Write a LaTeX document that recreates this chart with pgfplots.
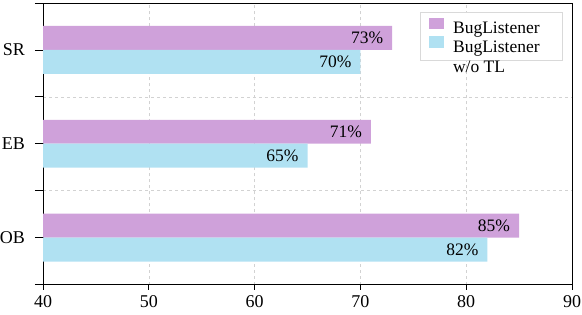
\documentclass[border=0pt]{standalone}
\usepackage{pgfplots}
\pgfplotsset{compat=1.18}
\usepackage{fontspec}
\setmainfont{Liberation Serif}
\definecolor{cpurple}{HTML}{CFA1DA}
\definecolor{cblue}{HTML}{B0E1F2}
\begin{document}
\fontsize{17.5}{20}\selectfont
\begin{tikzpicture}
\begin{axis}[
  scale only axis,
  width=529pt, height=281.5pt,
  xmin=40, xmax=90,
  ymin=-0.5, ymax=2.5,
  xtick={40,50,60,70,80,90},
  xtick pos=bottom, ytick pos=left,
  ytick={-0.5,0.5,1.5,2.5},
  yticklabels={},
  extra y ticks={0,1,2},
  extra y tick labels={OB,EB,SR},
  extra y tick style={major tick length=0pt, grid=none, yticklabel style={xshift=-18pt}},
  tick align=outside,
  major tick length=5pt,
  ytick style={/pgfplots/major tick length=8pt},
  major tick style={black, line width=0.8pt},
  axis line style={line width=0.8pt},
  xmajorgrids, ymajorgrids,
  major grid style={dashed, gray!35, line width=0.6pt},
  tick label style={font=\fontsize{18}{21}\selectfont},
  yticklabel style={inner xsep=0pt},
  xticklabel style={inner xsep=0pt, inner ysep=5.5pt},
  /pgf/number format/assume math mode=true,
  xbar, bar width=0.255,
  nodes near coords={\pgfmathprintnumber{\pgfplotspointmeta}\%},
  nodes near coords style={anchor=east, xshift=-3pt, font=\fontsize{17.5}{21}\selectfont, black},
  point meta=x,
  legend style={at={(1,1)}, anchor=north east, xshift=-9pt, yshift=-8.7pt,
    draw=gray!30, line width=0.8pt,
    font=\fontsize{17.5}{20}\selectfont, inner xsep=9pt, inner ysep=5.5pt,
    row sep=0pt, column sep=9pt, nodes={inner sep=0pt},
    legend cell align=left},
  legend image code/.code={\fill[#1] (0pt,-1pt) rectangle (15pt,10.5pt);},
]
\addplot[fill=cpurple, draw=none, bar shift=0.1275] coordinates {(85,0) (71,1) (73,2)};
\addlegendentry{\begin{tabular}[t]{@{}l@{\hspace{14pt}}}BugListener\end{tabular}}
\addplot[fill=cblue, draw=none, bar shift=-0.1275] coordinates {(82,0) (65,1) (70,2)};
\addlegendentry{\begin{tabular}[t]{@{}l@{\hspace{14pt}}}BugListener\\w/o TL\end{tabular}}
\end{axis}
\pgfresetboundingbox
\path[use as bounding box] ([xshift=-43pt,yshift=-30.5pt]current axis.south west) rectangle ([xshift=10pt,yshift=3pt]current axis.north east);
\end{tikzpicture}
\end{document}
